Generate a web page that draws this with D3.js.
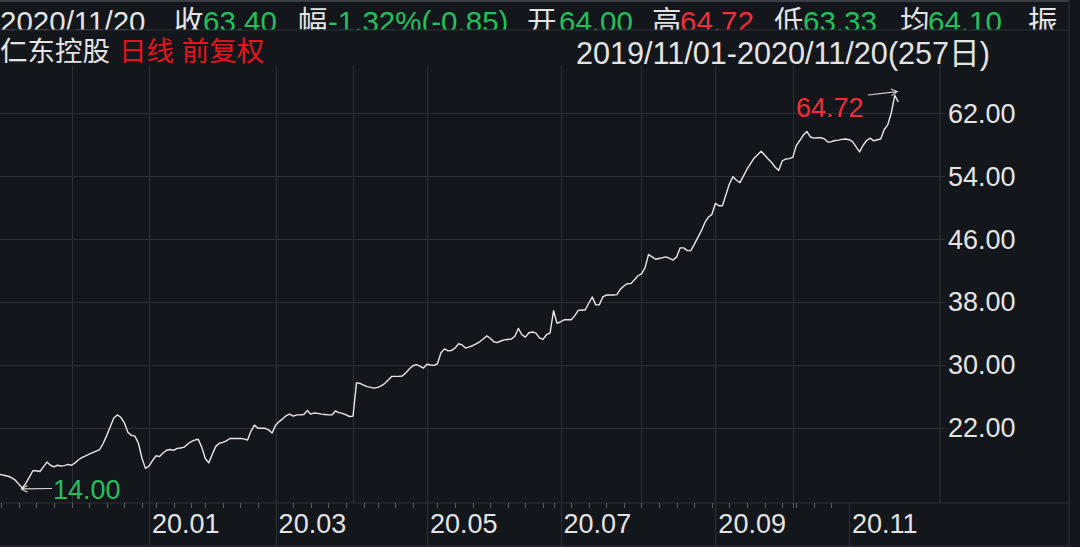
<!DOCTYPE html>
<html><head><meta charset="utf-8">
<script src="https://cdn.jsdelivr.net/npm/d3@7"></script>
<style>html,body{margin:0;padding:0;background:#13161b;overflow:hidden}svg{display:block}</style>
</head><body><svg id="c" width="1080" height="547"></svg>
<script>
// ---------- data ----------
const stockName = "仁东控股";
const periodTags = ["日线", "前复权"];
const startDate = "2019-11-01", endDate = "2020-11-20";
const holidays = ["2020-01-01","2020-01-24","2020-01-27","2020-01-28","2020-01-29","2020-01-30","2020-01-31",
  "2020-04-06","2020-05-01","2020-05-04","2020-05-05","2020-06-25","2020-06-26",
  "2020-10-01","2020-10-02","2020-10-05","2020-10-06","2020-10-07","2020-10-08"];
const closes = [
  16.08,16.0,15.9,15.8,15.6,15.3,14.8,14.3,14.9,15.7,
  16.5,16.5,16.4,17.0,17.6,17.2,17.0,17.2,17.1,17.15,
  17.3,17.2,17.5,17.9,18.2,18.4,18.6,18.8,19.0,19.2,
  20.0,21.0,22.1,23.2,23.6,23.3,22.6,21.4,21.0,20.9,
  20.0,18.1,16.8,17.1,17.8,18.4,18.3,18.75,19.1,19.2,
  19.1,19.35,19.4,19.5,19.9,20.2,20.4,20.5,19.5,18.05,
  17.5,18.6,19.6,20.0,20.1,20.3,20.6,20.6,20.6,20.6,
  20.55,20.4,21.55,22.3,21.9,21.9,21.9,21.7,21.3,22.3,
  22.75,23.1,23.5,23.7,23.45,23.6,23.6,23.65,24.15,23.7,
  23.85,23.8,23.7,23.65,23.6,23.6,24.1,23.9,23.8,23.6,
  23.4,23.45,27.7,27.6,27.4,27.2,27.1,27.0,27.1,27.3,
  27.6,28.05,28.5,28.5,28.5,28.55,28.95,29.45,29.85,30.0,
  29.8,29.55,30.05,29.95,29.9,30.1,31.5,32.0,31.75,31.8,
  32.1,32.65,32.5,32.1,32.25,32.4,32.65,32.9,33.25,33.65,
  33.35,32.9,32.8,33.0,33.15,33.2,33.25,33.6,34.6,33.8,
  33.5,34.05,34.15,34.0,33.4,33.2,33.8,34.0,36.85,35.25,
  35.45,35.7,35.7,35.7,36.2,36.9,36.95,36.95,37.8,38.6,
  37.6,37.6,38.6,38.85,38.85,38.85,38.9,39.6,40.0,40.3,
  40.3,40.8,41.3,41.55,42.3,44.0,43.7,43.4,43.5,43.6,
  43.7,43.5,43.3,43.7,44.85,44.85,44.5,44.5,45.3,46.15,
  47.0,48.05,48.75,49.1,50.5,50.2,50.2,51.6,53.0,53.9,
  53.45,53.15,54.0,54.85,55.55,56.25,56.7,57.15,56.65,56.15,
  55.7,55.1,54.7,55.9,56.15,56.2,56.35,57.85,58.5,59.2,
  59.65,58.95,58.8,58.85,58.85,58.7,58.3,58.35,58.5,58.55,
  58.65,58.7,58.6,58.35,57.7,57.05,57.9,58.5,58.8,58.45,
  58.6,58.7,59.9,60.5,62.0,64.25,63.40
];
const yTicks = [22, 30, 38, 46, 54, 62];
const gridMonths = ["2019-12","2020-01","2020-03","2020-04","2020-05","2020-07","2020-08","2020-09","2020-10"];
const labelMonths = ["2020-01","2020-03","2020-05","2020-07","2020-09","2020-11"];
const monthLabels = ["20.01","20.03","20.05","20.07","20.09","20.11"];
const headerLabels = ["收","幅","开","高","低","均","振"];
const headerValues = ["63.40","-1.32%(-0.85)","64.00","64.72","63.33","64.10"];
const headerNums = [63.40, -1.32, 64.00, 64.72, 63.33, 64.10];
const prevClose = 64.25;
const lowValue = 14.00, lowIndex = 7;
const highValue = 64.72, highIndex = 256;

// ---------- calendar ----------
const fmt = d3.timeFormat("%Y-%m-%d"), fmtM = d3.timeFormat("%Y-%m"), fmtS = d3.timeFormat("%Y/%m/%d");
const hol = new Set(holidays);
const dates = [];
for (let d = d3.timeParse("%Y-%m-%d")(startDate); d <= d3.timeParse("%Y-%m-%d")(endDate); d = d3.timeDay.offset(d, 1)) {
  const w = d.getDay();
  if (w === 0 || w === 6 || hol.has(fmt(d))) continue;
  dates.push(d);
}
const monthStart = m => dates.findIndex(d => fmtM(d) === m);

// ---------- colors ----------
const BG = "#13161b", GRID = "#2c2f36", TXT = "#e4e4e4", GREEN = "#22c05c", RED = "#ee2f3a", RED2 = "#e5141c";
const FONT = "'Liberation Sans','Noto Sans CJK SC',sans-serif";

const svg = d3.select("#c");
svg.append("rect").attr("width", 1080).attr("height", 547).attr("fill", BG);

// ---------- layout ----------
const plotL = 0, plotR = 940, plotT = 66, plotB = 503, panelR = 1069;
const x = d3.scaleLinear().domain([0, closes.length - 1]).range([-2.3, -2.3 + 3.518 * (closes.length - 1)]);
const y = d3.scaleLinear().domain([22, 62]).range([427.5, 113]);

// horizontal grid + y labels
const gy = svg.append("g");
gy.selectAll("line").data(yTicks).join("line")
  .attr("x1", plotL).attr("x2", plotR + 5)
  .attr("y1", d => Math.round(y(d)) + 0.5).attr("y2", d => Math.round(y(d)) + 0.5)
  .attr("stroke", GRID).attr("stroke-width", 1);
gy.selectAll("text").data(yTicks).join("text")
  .attr("x", 948).attr("y", d => y(d)).attr("dy", "0.36em")
  .attr("fill", TXT).attr("font-family", FONT).attr("font-size", 27)
  .text(d => d3.format(".2f")(d));

// vertical grid
svg.append("g").selectAll("line").data(gridMonths.map(monthStart)).join("line")
  .attr("x1", d => Math.round(x(d)) + 0.5).attr("x2", d => Math.round(x(d)) + 0.5)
  .attr("y1", plotT).attr("y2", plotB).attr("stroke", GRID);

// frame lines
const frame = svg.append("g").attr("stroke", GRID).attr("stroke-width", 1.2);
frame.append("line").attr("x1", 0).attr("x2", panelR).attr("y1", 1).attr("y2", 1).attr("stroke", "#3a3d44").attr("stroke-width", 2);
frame.append("line").attr("x1", 0).attr("x2", panelR).attr("y1", 30).attr("y2", 30);
frame.append("line").attr("x1", 0).attr("x2", panelR).attr("y1", plotB).attr("y2", plotB);
frame.append("line").attr("x1", 0).attr("x2", panelR).attr("y1", 546).attr("y2", 546);
frame.append("line").attr("x1", plotR).attr("x2", plotR).attr("y1", plotT).attr("y2", plotB);
frame.append("line").attr("x1", panelR).attr("x2", panelR).attr("y1", 0).attr("y2", 547);

// x axis: weekly ticks, month separators, labels
const weekStarts = dates.map((d, i) => i).filter(i => i > 0 && d3.timeMonday.floor(dates[i]) > d3.timeMonday.floor(dates[i - 1]) && i < monthStart("2020-11"));
svg.append("g").selectAll("line").data(weekStarts).join("line")
  .attr("x1", d => Math.round(x(d)) + 0.5).attr("x2", d => Math.round(x(d)) + 0.5)
  .attr("y1", plotB).attr("y2", plotB + 5).attr("stroke", "#5a5d63");
const lab = labelMonths.map(monthStart);
svg.append("g").selectAll("line").data(lab).join("line")
  .attr("x1", d => Math.round(x(d)) + 0.5).attr("x2", d => Math.round(x(d)) + 0.5)
  .attr("y1", plotB).attr("y2", 547).attr("stroke", GRID);
svg.append("g").selectAll("text").data(lab).join("text")
  .attr("x", d => x(d) + 3).attr("y", 533)
  .attr("fill", TXT).attr("font-family", FONT).attr("font-size", 27)
  .text((d, i) => monthLabels[i]);

// price line
svg.append("clipPath").attr("id", "pc").append("rect").attr("x", plotL).attr("y", plotT).attr("width", plotR - plotL).attr("height", plotB - plotT);
svg.append("path").datum(closes).attr("clip-path", "url(#pc)")
  .attr("d", d3.line().x((d, i) => x(i)).y(d => y(d)))
  .attr("fill", "none").attr("stroke", "#e8e8e8").attr("stroke-width", 1.4).attr("stroke-linejoin", "round");

// annotations (arrows)
function arrow(x0, y0, x1, y1) {
  const a = Math.atan2(y1 - y0, x1 - x0), L = 7, s = 0.5;
  const p = d3.path();
  p.moveTo(x0, y0); p.lineTo(x1, y1);
  p.moveTo(x1 - L * Math.cos(a - s), y1 - L * Math.sin(a - s)); p.lineTo(x1, y1);
  p.lineTo(x1 - L * Math.cos(a + s), y1 - L * Math.sin(a + s));
  svg.append("path").attr("d", p.toString()).attr("fill", "none").attr("stroke", "#d8d8d8").attr("stroke-width", 1.1);
}
arrow(52, 488.5, x(lowIndex) - 1, y(lowValue) - 1.5);
svg.append("text").attr("x", 53).attr("y", 499).attr("fill", GREEN).attr("font-family", FONT).attr("font-size", 27).text(d3.format(".2f")(lowValue));
arrow(868, 95, x(highIndex) - 1, y(highValue));
svg.append("text").attr("x", 796).attr("y", 117).attr("fill", RED).attr("font-family", FONT).attr("font-size", 27).text(d3.format(".2f")(highValue));

// header row 1 (clipped at the row separator, as in the source)
const headerX = [0, 174, 203, 298, 328, 527, 559, 652, 680, 774, 803, 900, 928, 1028];
const headerItems = [{ t: fmtS(dates[dates.length - 1]), c: TXT }];
headerLabels.forEach((l, i) => {
  headerItems.push({ t: l, c: TXT });
  if (i < headerValues.length) headerItems.push({ t: headerValues[i], c: (i === 1 ? headerNums[i] > 0 : headerNums[i] > prevClose) ? RED : GREEN });
});
svg.append("clipPath").attr("id", "hc").append("rect").attr("x", 0).attr("y", 2).attr("width", panelR).attr("height", 27.5);
svg.append("g").attr("clip-path", "url(#hc)").attr("font-family", FONT).attr("font-size", 29.5)
  .selectAll("text").data(headerItems).join("text")
  .attr("x", (d, i) => headerX[i]).attr("y", 32).attr("fill", d => d.c).text(d => d.t);

// header row 2
const h2 = svg.append("g").attr("font-family", FONT).attr("font-size", 27.5);
h2.append("text").attr("x", 0).attr("y", 61).attr("fill", TXT).text(stockName);
h2.append("text").attr("x", 119).attr("y", 61).attr("fill", RED2).text(periodTags.join(" "));
h2.append("text").attr("x", 576).attr("y", 64).attr("fill", TXT).attr("font-size", 30.6)
  .text(`${fmtS(dates[0])}-${fmtS(dates[dates.length - 1])}(${dates.length}日)`);
</script></body></html>
